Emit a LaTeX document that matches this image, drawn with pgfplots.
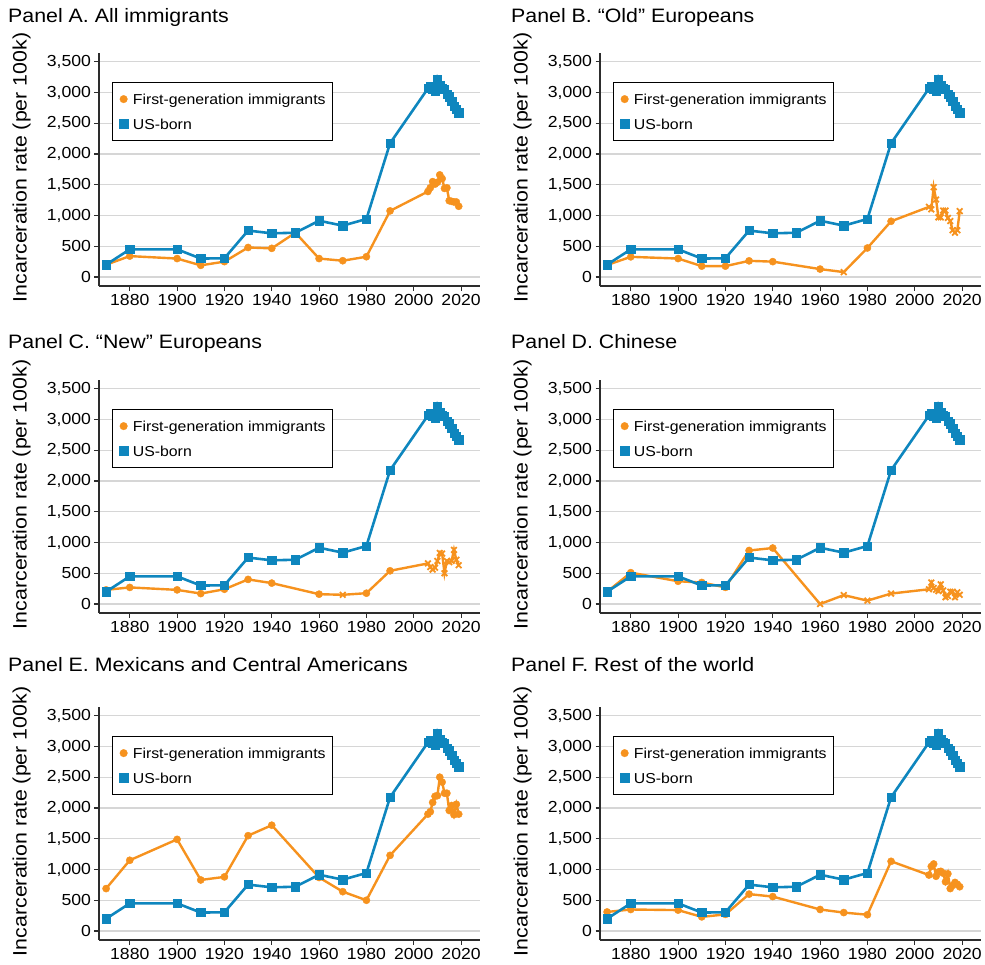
\documentclass[border=0pt]{standalone}
\usepackage{fontspec}
\setmainfont[FakeStretch=1.1]{Liberation Sans}
\usepackage{pgfplots}
\usepackage{pgfplotstable}
\pgfplotsset{compat=1.18}
\definecolor{orng}{RGB}{246,146,30}
\definecolor{blu}{RGB}{14,134,190}
\definecolor{gridc}{RGB}{214,214,214}
\definecolor{axc}{RGB}{45,45,45}

\pgfplotstableread{
year rate
1870 200
1880 450
1900 450
1910 300
1920 305
1930 755
1940 710
1950 720
1960 915
1970 835
1980 943
1990 2175
2006 3065
2007 3100
2008 3060
2009 3020
2010 3220
2011 3110
2012 3070
2013 3050
2014 2970
2015 2930
2016 2860
2017 2770
2018 2730
2019 2670
}\usborn

\pgfplotstableread{
year rate
1870 200
1880 340
1900 300
1910 190
1920 250
1930 480
1940 466
1950 720
1960 300
1970 265
1980 330
1990 1075
2006 1390
2007 1450
2008 1550
2009 1510
2010 1540
2011 1660
2012 1600
2013 1440
2014 1450
2015 1240
2016 1230
2017 1220
2018 1220
2019 1150
}\pA

\pgfplotstableread{
year rate
1870 195
1880 328
1900 300
1910 177
1920 177
1930 263
1940 250
1960 129
1970 80
1980 472
1990 906
2006 1140
2007 1100
2008 1460
2009 1260
2010 970
2011 970
2012 1080
2013 1080
2014 960
2015 910
2016 760
2017 720
2018 760
2019 1070
}\pB

\pgfplotstableread{
year rate
1870 230
1880 270
1900 230
1910 170
1920 240
1930 400
1940 340
1960 160
1970 150
1980 176
1990 540
2006 660
2007 600
2008 560
2009 590
2010 700
2011 830
2012 820
2013 500
2014 700
2015 680
2016 700
2017 880
2018 720
2019 630
}\pC

\pgfplotstableread{
year rate
1870 200
1880 510
1900 370
1910 350
1920 270
1930 870
1940 910
1960 0
1970 145
1980 55
1990 170
2006 240
2007 350
2008 260
2009 230
2010 210
2011 320
2012 220
2013 110
2014 130
2015 200
2016 200
2017 110
2018 190
2019 150
}\pD

\pgfplotstableread{
year rate
1870 690
1880 1150
1900 1490
1910 830
1920 880
1930 1550
1940 1720
1960 870
1970 640
1980 500
1990 1230
2006 1900
2007 1940
2008 2090
2009 2190
2010 2200
2011 2500
2012 2420
2013 2240
2014 2240
2015 1960
2016 2040
2017 1890
2018 2060
2019 1900
}\pE

\pgfplotstableread{
year rate
1870 310
1880 350
1900 340
1910 230
1920 270
1930 600
1940 560
1960 350
1970 300
1980 265
1990 1133
2006 910
2007 1050
2008 1090
2009 890
2010 960
2011 970
2012 940
2013 800
2014 930
2015 690
2016 740
2017 790
2018 760
2019 720
}\pF

\pgfplotsset{
  panel/.style={
    scale only axis, width=381pt, height=233pt, anchor=south west,
    xmin=1867, xmax=2028, ymin=-146, ymax=3641,
    axis x line*=bottom, axis y line*=left,
    axis line style={axc, line width=1.1pt},
    xtick={1880,1900,...,2020}, ytick={0,500,...,3500},
    minor tick num=0,
    tick style={axc, line width=1.1pt},
    tick align=outside, major tick length=4.5pt,
    ymajorgrids, grid style={gridc, line width=1.4pt},
    tick label style={font=\fontsize{16}{18}\selectfont, text=black},
    /pgf/number format/assume math mode=true,
    xticklabel style={/pgf/number format/1000 sep={}},
    yticklabel style={/pgf/number format/1000 sep={,}},
    scaled ticks=false,
    title style={font=\fontsize{19.4}{22}\selectfont, anchor=base west, inner sep=0pt},
    ylabel={Incarceration rate (per 100k)},
    ylabel style={font=\fontsize{19.4}{22}\selectfont, at={(axis description cs:-0.19,0.509)}, anchor=base, inner sep=0pt},
    legend cell align=left,
    legend style={at={(axis description cs:0.034,0.8755)}, anchor=north west,
      draw=black, line width=1pt, fill=white,
      inner xsep=7pt, inner ysep=8.8pt, row sep=9.1pt,
      font=\fontsize{14.4}{16}\selectfont,
      nodes={inner sep=0pt, text height=13pt, text depth=2.6pt},
      /tikz/every odd column/.append style={column sep=5pt}},
    clip=false,
  },
  obase/.style={orng, line width=2.4pt, mark=*, mark size=3.6pt, mark options={solid, line width=0.4pt}},
  oxm/.style={orng, only marks, mark=x, mark size=4pt, mark options={solid, line width=1.8pt}},
  bbase/.style={blu, line width=2.6pt, mark=square*, mark size=4.1pt, mark options={solid, line width=0.4pt}},
  legimg/.style={legend image code/.code={\draw[##1] plot coordinates {(0pt,0pt)};}},
}

\newcommand{\legendentries}{%
  \addlegendimage{only marks, mark=*, mark size=3.8pt, orng, mark options={line width=0.3pt}, legimg}
  \addlegendentry{First-generation immigrants}
  \addlegendimage{only marks, mark=square*, mark size=4.2pt, blu, mark options={line width=0.3pt}, legimg}
  \addlegendentry{US-born}
}

\begin{document}
\begin{tikzpicture}[x=1pt,y=1pt]
\useasboundingbox (0,0) rectangle (985,-964);

% Panel A
\begin{axis}[panel, at={(99pt,-286pt)},
  title={Panel A. All immigrants}, title style={at={(axis description cs:-0.2388,1.104)}}]
\legendentries
\addplot[obase, forget plot] table[x=year,y=rate] {\pA};
\addplot[bbase, forget plot] table[x=year,y=rate] {\usborn};
\end{axis}

% Panel B
\begin{axis}[panel, at={(600pt,-286pt)},
  title={Panel B. “Old” Europeans}, title style={at={(axis description cs:-0.2336,1.104)}}]
\legendentries
\addplot[obase, mark indices={1,2,3,4,5,6,7,8,10,11}, forget plot] table[x=year,y=rate] {\pB};
\addplot[oxm, mark indices={9,12,13,14,15,16,17,18,19,20,21,22,23,24,25}, forget plot] table[x=year,y=rate] {\pB};
\addplot[bbase, forget plot] table[x=year,y=rate] {\usborn};
\end{axis}

% Panel C
\begin{axis}[panel, at={(99pt,-613pt)},
  title={Panel C. “New” Europeans}, title style={at={(axis description cs:-0.2388,1.110)}}]
\legendentries
\addplot[obase, mark indices={1,2,3,4,5,6,7,8,10,11}, forget plot] table[x=year,y=rate] {\pC};
\addplot[oxm, mark indices={9,12,13,14,15,16,17,18,19,20,21,22,23,24,25}, forget plot] table[x=year,y=rate] {\pC};
\addplot[bbase, forget plot] table[x=year,y=rate] {\usborn};
\end{axis}

% Panel D
\begin{axis}[panel, at={(600pt,-613pt)},
  title={Panel D. Chinese}, title style={at={(axis description cs:-0.2336,1.110)}}]
\legendentries
\addplot[obase, mark indices={1,2,3,4,5,6,7}, forget plot] table[x=year,y=rate] {\pD};
\addplot[oxm, mark indices={8,9,10,11,12,13,14,15,16,17,18,19,20,21,22,23,24,25}, forget plot] table[x=year,y=rate] {\pD};
\addplot[bbase, forget plot] table[x=year,y=rate] {\usborn};
\end{axis}

% Panel E
\begin{axis}[panel, at={(99pt,-940pt)},
  title={Panel E. Mexicans and Central Americans}, title style={at={(axis description cs:-0.2388,1.125)}}]
\legendentries
\addplot[obase, forget plot] table[x=year,y=rate] {\pE};
\addplot[bbase, forget plot] table[x=year,y=rate] {\usborn};
\end{axis}

% Panel F
\begin{axis}[panel, at={(600pt,-940pt)},
  title={Panel F. Rest of the world}, title style={at={(axis description cs:-0.2336,1.125)}}]
\legendentries
\addplot[obase, forget plot] table[x=year,y=rate] {\pF};
\addplot[bbase, forget plot] table[x=year,y=rate] {\usborn};
\end{axis}
\end{tikzpicture}
\end{document}
